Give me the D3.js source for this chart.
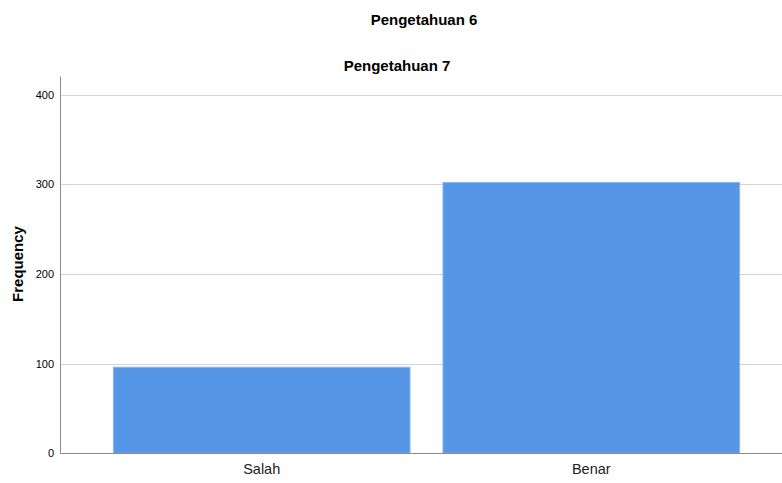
<!DOCTYPE html>
<html>
<head>
<meta charset="UTF-8">
<title>Pengetahuan 7</title>
<script src="https://cdn.jsdelivr.net/npm/d3@7/dist/d3.min.js"></script>
<style type="text/css">
body, html {
    margin: 0;
    background: #fff;
}
svg text {
    font-family: "Liberation Sans", Arial, sans-serif;
    fill: #000;
}
.grid line {
    stroke: #d4d4d4;
}
</style>
</head>
<body>
<div class="barGraph"></div>
<script type="text/javascript">
var categories = ["Salah", "Benar"];
var frequency  = [96, 302];
var yTicks     = [0, 100, 200, 300, 400];

var W = 782, H = 483,
    plotLeft = 60, plotRight = 793, plotTop = 76.7, plotBottom = 453.3;

var svg = d3.select(".barGraph")
    .append("svg")
    .attr("width", W)
    .attr("height", H);

var x = d3.scaleBand()
    .domain(categories)
    .range([plotLeft, plotRight])
    .paddingInner(0.1)
    .paddingOuter(0.162);

var y = d3.scaleLinear()
    .domain([0, 420])
    .range([plotBottom, plotTop]);

// gridlines
svg.append("g")
    .attr("class", "grid")
    .selectAll("line")
    .data(yTicks.filter(function (d) { return d > 0; }))
    .enter()
    .append("line")
    .attr("x1", plotLeft)
    .attr("x2", W)
    .attr("y1", function (d) { return Math.round(y(d)) + 0.5; })
    .attr("y2", function (d) { return Math.round(y(d)) + 0.5; });

// bars
svg.selectAll(".bar")
    .data(categories)
    .enter()
    .append("rect")
    .attr("class", "bar")
    .attr("x", function (d) { return x(d); })
    .attr("width", x.bandwidth())
    .attr("y", function (d, i) { return y(frequency[i]); })
    .attr("height", function (d, i) { return plotBottom - y(frequency[i]); })
    .style("fill", "#5596e6")
    .style("stroke", "#8ab5ee")
    .style("stroke-width", 1);

// y axis
var yAxis = d3.axisLeft(y).tickValues(yTicks).tickSize(0).tickPadding(6);
var gy = svg.append("g")
    .attr("transform", "translate(" + plotLeft + ",0)")
    .call(yAxis);
gy.select(".domain").remove();
gy.selectAll("text").style("font-size", "11px");

// x axis
var xAxis = d3.axisBottom(x).tickSize(0).tickPadding(10);
var gx = svg.append("g")
    .attr("transform", "translate(0," + plotBottom + ")")
    .call(xAxis);
gx.select(".domain").remove();
gx.selectAll("text").style("font-size", "14.5px").style("fill", "#222");

// axis lines
svg.append("line")
    .attr("x1", plotLeft + 0.5).attr("x2", plotLeft + 0.5)
    .attr("y1", plotTop).attr("y2", plotBottom)
    .style("stroke", "#8c8c8c");
svg.append("line")
    .attr("x1", plotLeft).attr("x2", W)
    .attr("y1", Math.round(plotBottom) + 0.5).attr("y2", Math.round(plotBottom) + 0.5)
    .style("stroke", "#8c8c8c");

// titles
svg.append("text")
    .attr("x", 424).attr("y", 25)
    .attr("text-anchor", "middle")
    .style("font-size", "15px")
    .style("font-weight", "bold")
    .text("Pengetahuan 6");

svg.append("text")
    .attr("x", 397).attr("y", 71)
    .attr("text-anchor", "middle")
    .style("font-size", "15px")
    .style("font-weight", "bold")
    .text("Pengetahuan 7");

svg.append("text")
    .attr("transform", "translate(23," + ((plotTop + plotBottom) / 2 - 1) + ") rotate(-90)")
    .attr("text-anchor", "middle")
    .style("font-size", "15px")
    .style("font-weight", "bold")
    .text("Frequency");
</script>
</body>
</html>
